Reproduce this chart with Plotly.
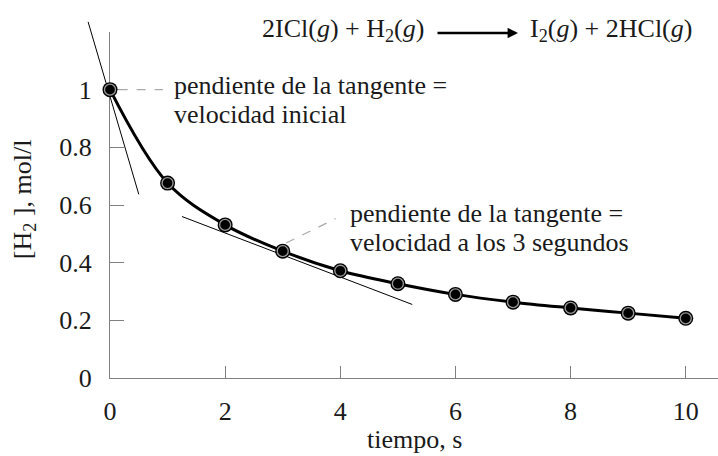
import plotly.graph_objects as go

# ---------------- data ----------------
time_s = [0, 1, 2, 3, 4, 5, 6, 7, 8, 9, 10]
h2_conc = [1.0, 0.676, 0.531, 0.440, 0.372, 0.327, 0.290, 0.263, 0.243, 0.225, 0.207]

x_ticks = [0, 2, 4, 6, 8, 10]
x_tick_labels = ["0", "2", "4", "6", "8", "10"]
y_ticks = [0, 0.2, 0.4, 0.6, 0.8, 1]
y_tick_labels = ["0", "0.2", "0.4", "0.6", "0.8", "1"]

# tangent lines
tangent_initial_t = [-0.38, 0.50]
tangent_initial_c = [1.235, 0.637]
tangent_3s_t = [1.25, 5.25]
tangent_3s_c = [0.560, 0.255]

# dashed leader lines
leader_initial_t = [0.15, 0.92]
leader_initial_c = [1.0, 1.0]
leader_3s_t = [3.06, 3.92]
leader_3s_c = [0.468, 0.553]

# ---------------- layout geometry ----------------
W, H = 718, 456
left_px, right_px, top_px, bottom_px = 110, 0, 32, 78
x_range = [0, 10.56]
y_range = [0, 1.2]

xdom = [left_px / W, 1 - right_px / W]
ydom = [bottom_px / H, 1 - top_px / H]
px_per_x = W * (xdom[1] - xdom[0]) / (x_range[1] - x_range[0])
px_per_y = H * (ydom[1] - ydom[0]) / (y_range[1] - y_range[0])
x2_range = [x_range[0] - left_px / px_per_x, x_range[1] + right_px / px_per_x]
y2_range = [y_range[0] - bottom_px / px_per_y, y_range[1] + top_px / px_per_y]

FONT = "Liberation Serif"
AXC = "#808080"
TXT = "#1a1a1a"
FS = 26

fig = go.Figure()

# overlay (full-figure) axes for tangents and leaders, not clipped to the plot area
fig.add_trace(go.Scatter(x=tangent_initial_t, y=tangent_initial_c, mode="lines",
                         line=dict(color="black", width=1), xaxis="x2", yaxis="y2",
                         hoverinfo="skip", showlegend=False))
fig.add_trace(go.Scatter(x=tangent_3s_t, y=tangent_3s_c, mode="lines",
                         line=dict(color="black", width=1), xaxis="x2", yaxis="y2",
                         hoverinfo="skip", showlegend=False))
fig.add_trace(go.Scatter(x=leader_initial_t, y=leader_initial_c, mode="lines",
                         line=dict(color="#aaaaaa", width=1.2, dash="dash"), xaxis="x2", yaxis="y2",
                         hoverinfo="skip", showlegend=False))
fig.add_trace(go.Scatter(x=leader_3s_t, y=leader_3s_c, mode="lines",
                         line=dict(color="#aaaaaa", width=1.2, dash="dash"), xaxis="x2", yaxis="y2",
                         hoverinfo="skip", showlegend=False))

# main curve
fig.add_trace(go.Scatter(x=time_s, y=h2_conc, mode="lines",
                         line=dict(color="black", width=3, shape="spline", smoothing=1.0),
                         xaxis="x2", yaxis="y2", showlegend=False))
fig.add_trace(go.Scatter(x=time_s, y=h2_conc, mode="markers",
                         marker=dict(color="black", size=15),
                         xaxis="x2", yaxis="y2", showlegend=False))
fig.add_trace(go.Scatter(x=time_s, y=h2_conc, mode="markers",
                         marker=dict(color="black", size=11, line=dict(color="#9a9a9a", width=1.3)),
                         xaxis="x2", yaxis="y2", showlegend=False))

# invisible trace on main axes so that they render
fig.add_trace(go.Scatter(x=time_s, y=h2_conc, mode="markers", marker=dict(opacity=0),
                         hoverinfo="skip", showlegend=False))

axis_common = dict(showgrid=False, zeroline=False, showline=True, linecolor=AXC, linewidth=1.3,
                   ticks="inside", tickcolor=AXC, tickwidth=1.3,
                   tickfont=dict(family=FONT, size=FS, color=TXT), fixedrange=True)

fig.update_layout(
    width=W, height=H,
    margin=dict(l=0, r=0, t=0, b=0, autoexpand=False),
    paper_bgcolor="white", plot_bgcolor="rgba(0,0,0,0)",
    showlegend=False,
    font=dict(family=FONT, size=FS, color=TXT),
    xaxis=dict(domain=xdom, range=x_range, anchor="y", tickvals=x_ticks, ticktext=x_tick_labels,
               ticklen=12, ticklabelstandoff=10, **axis_common),
    yaxis=dict(domain=ydom, range=y_range, anchor="x", tickvals=y_ticks, ticktext=y_tick_labels,
               ticklen=14, ticklabelstandoff=12, **axis_common),
    xaxis2=dict(domain=[0, 1], range=x2_range, anchor="y2", visible=False, fixedrange=True),
    yaxis2=dict(domain=[0, 1], range=y2_range, anchor="x2", visible=False, fixedrange=True),
)

ann_font = dict(family=FONT, size=FS, color=TXT)
annotations = [
    # axis titles
    dict(text="tiempo, s", xref="x", yref="paper", x=(x_range[0] + x_range[1]) / 2,
         y=1 - 439 / H, xanchor="center", yanchor="middle", showarrow=False, font=ann_font),
    dict(text="[H<sub>2</sub> ], mol/l", xref="paper", yref="y", x=24 / W, y=0.62,
         textangle=-90, xanchor="center", yanchor="middle", showarrow=False, font=ann_font),
    # labels
    dict(text="pendiente de la tangente =", xref="x", yref="y", x=1.08, y=1.015,
         xanchor="left", yanchor="middle", showarrow=False, font=ann_font),
    dict(text="velocidad inicial", xref="x", yref="y", x=1.08, y=0.913,
         xanchor="left", yanchor="middle", showarrow=False, font=ann_font),
    dict(text="pendiente de la tangente =", xref="x", yref="y", x=4.14, y=0.572,
         xanchor="left", yanchor="middle", showarrow=False, font=ann_font),
    dict(text="velocidad a los 3 segundos", xref="x", yref="y", x=4.14, y=0.471,
         xanchor="left", yanchor="middle", showarrow=False, font=ann_font),
    # reaction equation
    dict(text="2ICl(<i>g</i>) + H<sub>2</sub>(<i>g</i>)", xref="paper", yref="paper",
         x=426 / W, y=1 - 30 / H, xanchor="right", yanchor="middle", showarrow=False, font=ann_font),
    dict(text="I<sub>2</sub>(<i>g</i>) + 2HCl(<i>g</i>)", xref="paper", yref="paper",
         x=528 / W, y=1 - 30 / H, xanchor="left", yanchor="middle", showarrow=False, font=ann_font),
    dict(text="", xref="paper", yref="paper", x=518 / W, y=1 - 33 / H,
         ax=-82, ay=0, showarrow=True, arrowhead=2, arrowsize=0.8, arrowwidth=2.6,
         arrowcolor="black", standoff=0),
]
fig.update_layout(annotations=annotations)

fig.write_html("out.html", config={"displayModeBar": False, "staticPlot": False},
               post_script="document.body.style.margin='0';document.body.style.padding='0';")
